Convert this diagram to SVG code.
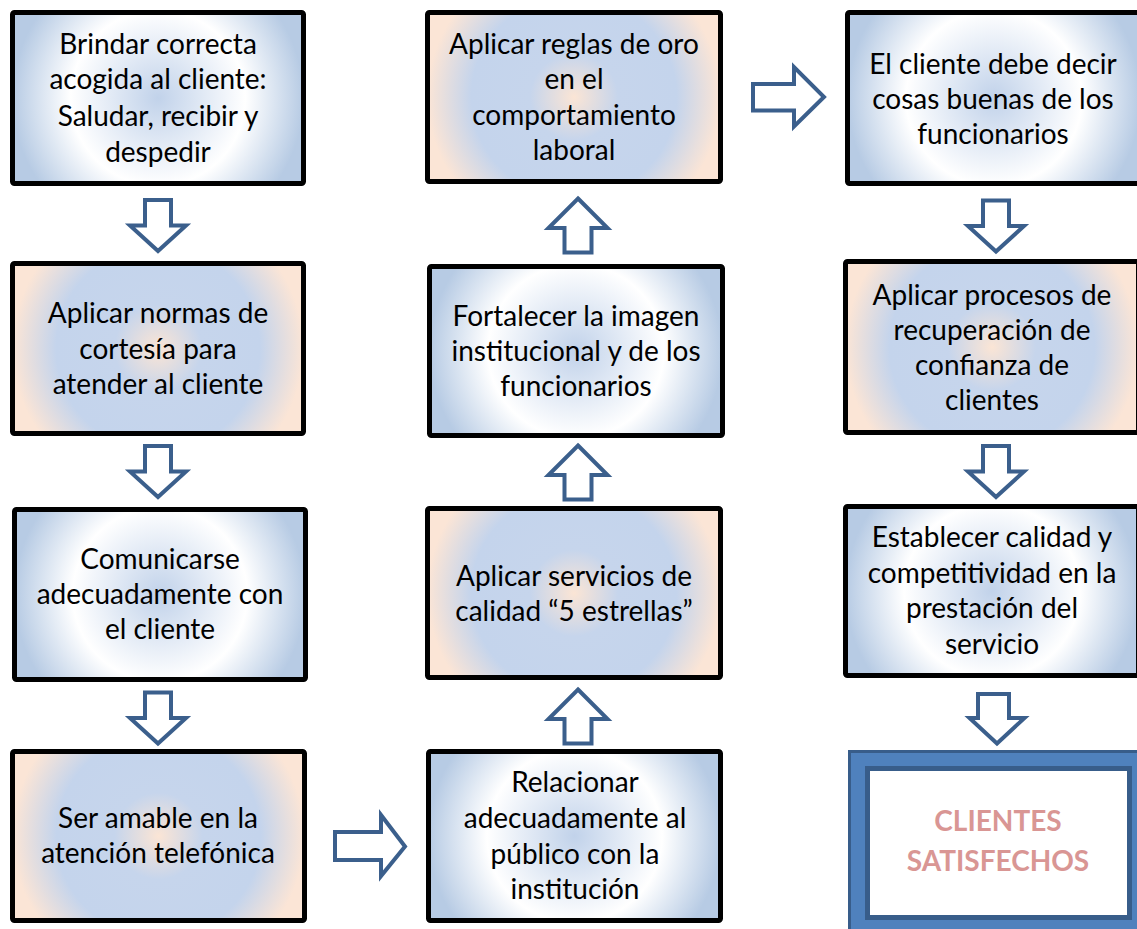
<svg xmlns="http://www.w3.org/2000/svg" xmlns:xlink="http://www.w3.org/1999/xlink" width="1137" height="929" viewBox="0 0 1137 929">
<defs>
<radialGradient id="gA" cx="0.5" cy="0.5" r="0.5" gradientTransform="translate(0.5 0.5) scale(1 1.71) translate(-0.5 -0.5)">
<stop offset="0" stop-color="#c1d2ea"/>
<stop offset="0.6" stop-color="#ffffff"/>
<stop offset="1" stop-color="#b7cbe4"/>
</radialGradient>
<radialGradient id="gB" cx="0.5" cy="0.5" r="0.5" gradientTransform="translate(0.5 0.5) scale(1 1.71) translate(-0.5 -0.5)">
<stop offset="0" stop-color="#fbe5d5"/>
<stop offset="0.3" stop-color="#c6d5ec"/>
<stop offset="0.7" stop-color="#c4d4ec"/>
<stop offset="1" stop-color="#fbe5d6"/>
</radialGradient>
<path id="down" d="M-13,0.5 H13 V26 H28 L0,51.5 L-28,26 H-13 Z"/>
<path id="up" d="M0,0.5 L29.5,30 H13.5 V54.5 H-13.5 V30 H-29.5 Z"/>
</defs>
<style>
.box{stroke:#000;stroke-width:5;}
.a{fill:url(#gA);}
.b{fill:url(#gB);}
text{font-family:Lato,"Liberation Sans",sans-serif;font-size:28px;fill:#000;text-anchor:middle;}
.arr{fill:#fff;stroke:#3b5f8c;stroke-width:4;stroke-linejoin:miter;}
.fin{font-weight:bold;fill:#d99694;}
</style>
<rect width="1137" height="929" fill="#fff"/>

<g id="n1"><rect class="box a" x="12.5" y="12.5" width="291" height="171" rx="2"/>
<text x="158" y="54">Brindar correcta</text><text x="158" y="89">acogida al cliente:</text><text x="158" y="126">Saludar, recibir y</text><text x="158" y="162">despedir</text></g>
<g id="n2"><rect class="box b" x="12.5" y="263.5" width="291" height="170" rx="2"/>
<text x="158" y="323">Aplicar normas de</text><text x="158" y="359">cortesía para</text><text x="158" y="394">atender al cliente</text></g>
<g id="n3"><rect class="box a" x="14.5" y="509.5" width="291" height="170" rx="2"/>
<text x="160" y="569">Comunicarse</text><text x="160" y="604">adecuadamente con</text><text x="160" y="639">el cliente</text></g>
<g id="n4"><rect class="box b" x="12.5" y="751.5" width="292" height="169" rx="2"/>
<text x="158" y="828">Ser amable en la</text><text x="158" y="863">atención telefónica</text></g>

<g id="n5"><rect class="box b" x="427.5" y="12.5" width="293" height="169" rx="2"/>
<text x="574" y="54">Aplicar reglas de oro</text><text x="574" y="89">en el</text><text x="574" y="125">comportamiento</text><text x="574" y="160">laboral</text></g>
<g id="n6"><rect class="box a" x="429.5" y="266.5" width="293" height="169" rx="2"/>
<text x="576" y="326">Fortalecer la imagen</text><text x="576" y="361">institucional y de los</text><text x="576" y="396">funcionarios</text></g>
<g id="n7"><rect class="box b" x="427.5" y="508.5" width="293" height="169" rx="2"/>
<text x="574" y="586">Aplicar servicios de</text><text x="574" y="621">calidad “5 estrellas”</text></g>
<g id="n8"><rect class="box a" x="428.5" y="751.5" width="292" height="169" rx="2"/>
<text x="575" y="792">Relacionar</text><text x="575" y="828">adecuadamente al</text><text x="575" y="864">público con la</text><text x="575" y="899">institución</text></g>

<g id="n9"><rect class="box a" x="847.5" y="12.5" width="293" height="171" rx="2"/>
<text x="993" y="74">El cliente debe decir</text><text x="993" y="109">cosas buenas de los</text><text x="993" y="144">funcionarios</text></g>
<g id="n10"><rect class="box b" x="845.5" y="261.5" width="293" height="171" rx="2"/>
<text x="992" y="305">Aplicar procesos de</text><text x="992" y="340">recuperación de</text><text x="992" y="375">confianza de</text><text x="992" y="410">clientes</text></g>
<g id="n11"><rect class="box a" x="845.5" y="506.5" width="293" height="169" rx="2"/>
<text x="992" y="547">Establecer calidad y</text><text x="992" y="583">competitividad en la</text><text x="992" y="618">prestación del</text><text x="992" y="654">servicio</text></g>
<g id="n12"><rect x="849.5" y="751.5" width="300" height="190" fill="#4f81bd" stroke="#385d8a" stroke-width="3"/>
<rect x="867.5" y="768.5" width="262" height="149" fill="#fff" stroke="#385d8a" stroke-width="5"/>
<text class="fin" x="998" y="831">CLIENTES</text><text class="fin" x="998" y="871">SATISFECHOS</text></g>

<g id="connectors">
<use href="#down" class="arr" transform="translate(158 199.5)"/>
<use href="#down" class="arr" transform="translate(158 445.5)"/>
<use href="#down" class="arr" transform="translate(158 692)"/>
<use href="#down" class="arr" transform="translate(996 200)"/>
<use href="#down" class="arr" transform="translate(996 445.5)"/>
<path class="arr" d="M978,694 H1009 V718 H1024.5 L997,743.5 L969.5,718 H978 Z"/>
<use href="#up" class="arr" transform="translate(578 198)"/>
<use href="#up" class="arr" transform="translate(578 445)"/>
<use href="#up" class="arr" transform="translate(578 689)"/>
<path class="arr" d="M753,84 H794 V67 L824,97 L794,126.5 V110.5 H753 Z"/>
<path class="arr" d="M335,832 H381 V815 L405,846.5 L381,876 V860 H335 Z"/>
</g>
</svg>
